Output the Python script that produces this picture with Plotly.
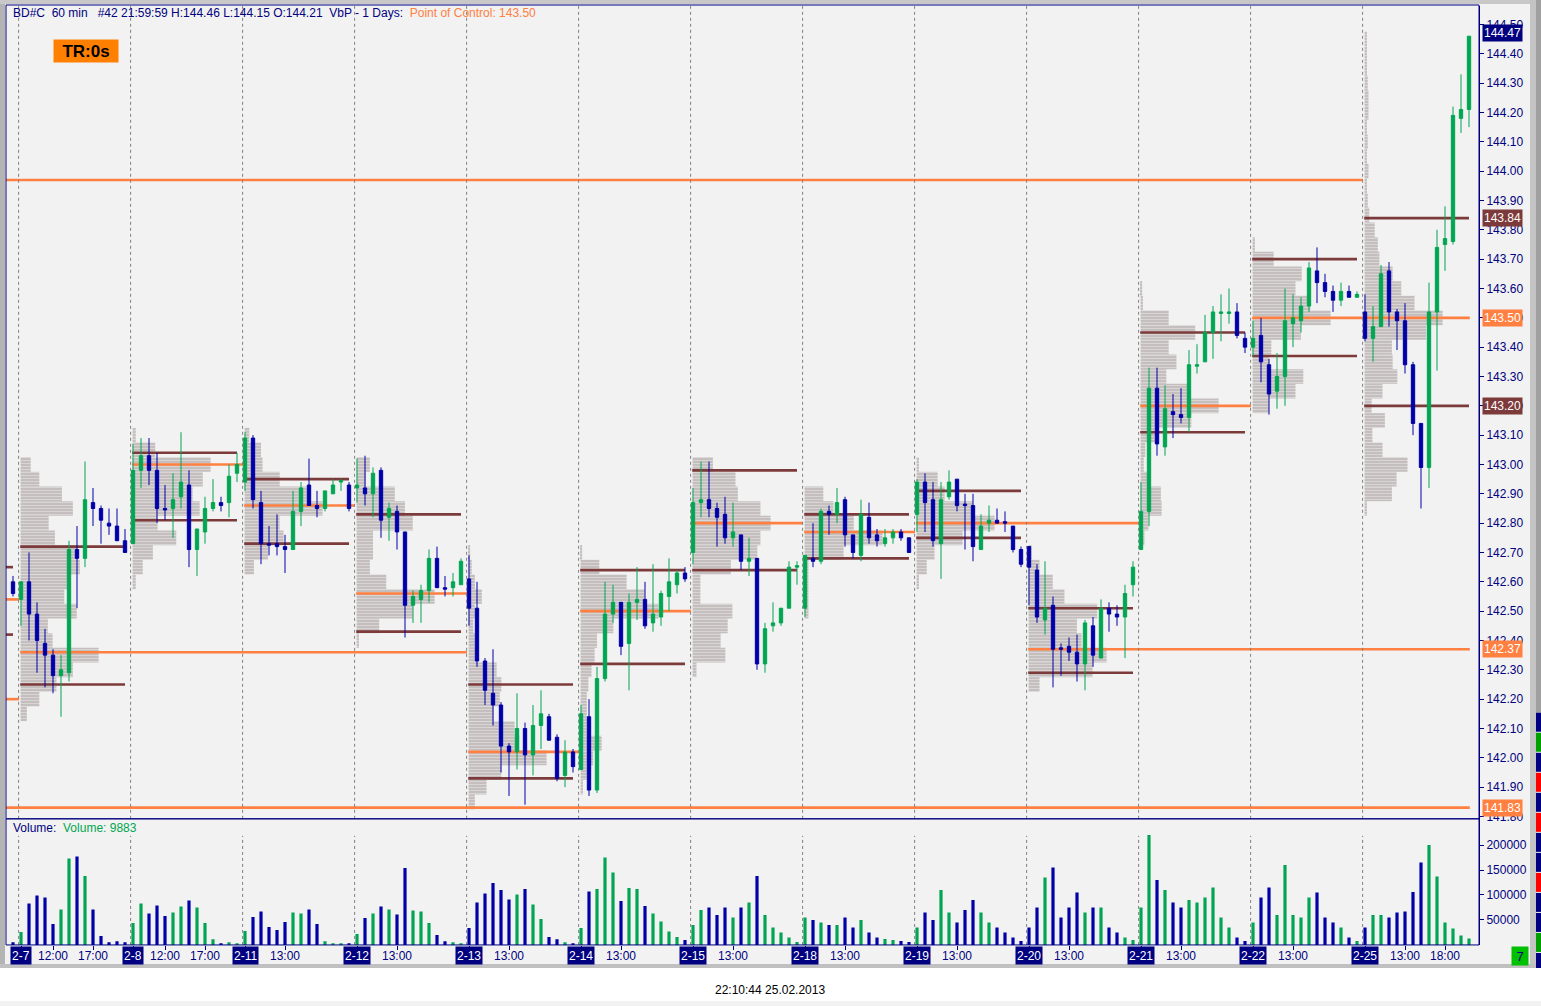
import plotly.graph_objects as go

W, H = 1541, 1006
# the captured page comes out about 6px shorter than the figure, so vertical
# positions are laid out against this height
PAGE_H = 1000

NAVY = "#000080"
GREEN = "#00a651"
BLUE = "#0000a8"
ORANGE = "#ff8040"
BROWN = "#7d3a3a"
PROF = "#c4bebe"
BG = "#f2f2f2"

# ---- data ----
days = ["2-7", "2-8", "2-11", "2-12", "2-13", "2-14", "2-15",
        "2-18", "2-19", "2-20", "2-21", "2-22", "2-25"]
bars_per_day = 14
session_start = 8   # first hourly bar of a day is 08:00
hour_labels = [[12, 17], [12, 17], [13], [13], [13], [13], [13],
               [13], [13], [13], [13], [13], [13, 18]]

# bar 0 is the last bar of 2-6, then 14 bars per day
opens = [142.60,
         142.54, 142.60, 142.49, 142.39, 142.35, 142.28, 142.29, 142.71, 142.68, 142.87, 142.85, 142.80, 142.79, 142.74,
         142.73, 142.98, 143.03, 142.98, 142.85, 142.85, 142.89, 142.93, 142.71, 142.77, 142.85, 142.87, 142.87, 142.97,
         142.94, 143.09, 142.87, 142.73, 142.73, 142.72, 142.71, 142.84, 142.93, 142.86, 142.85, 142.90, 142.94, 142.93,
         142.92, 142.92, 142.90, 142.98, 142.82, 142.84, 142.77, 142.52, 142.54, 142.57, 142.68, 142.58, 142.58, 142.59,
         142.61, 142.51, 142.33, 142.22, 142.18, 142.04, 142.02, 142.10, 142.01, 142.11, 142.14, 142.07, 141.94, 142.02,
         141.96, 142.14, 141.89, 142.27, 142.49, 142.53, 142.39, 142.53, 142.54, 142.46, 142.48, 142.55, 142.59, 142.63,
         142.70, 142.87, 142.88, 142.85, 142.83, 142.75, 142.76, 142.67, 142.68, 142.32, 142.45, 142.46, 142.51, 142.65,
         142.51, 142.68, 142.67, 142.84, 142.83, 142.88, 142.76, 142.69, 142.82, 142.76, 142.73, 142.75, 142.77, 142.75,
         142.83, 142.94, 142.88, 142.73, 142.89, 142.95, 142.865, 142.86, 142.71, 142.80, 142.81, 142.805, 142.79, 142.71,
         142.72, 142.64, 142.47, 142.52, 142.375, 142.38, 142.36, 142.32, 142.45, 142.34, 142.51, 142.49, 142.48, 142.59,
         142.71, 142.84, 143.26, 143.06, 143.18, 143.17, 143.16, 143.335, 143.35, 143.45, 143.515, 143.515, 143.52, 143.43,
         143.40, 143.44, 143.34, 143.25, 143.30, 143.48, 143.49, 143.54, 143.66, 143.62, 143.59, 143.56, 143.59, 143.57,
         143.52, 143.43, 143.47, 143.66, 143.52, 143.49, 143.34, 143.14, 142.99, 143.52, 143.75, 143.76, 144.18, 144.21]
highs = [142.62,
         142.60, 142.70, 142.53, 142.44, 142.37, 142.35, 142.74, 142.79, 143.01, 142.92, 142.86, 142.85, 142.85, 142.78,
         143.07, 143.09, 143.09, 143.04, 142.93, 142.97, 143.11, 142.98, 142.78, 142.89, 142.95, 142.89, 143.00, 143.04,
         143.11, 143.10, 142.91, 142.79, 142.83, 142.76, 142.91, 142.94, 143.02, 142.91, 142.91, 142.95, 142.95, 142.94,
         143.02, 143.03, 142.99, 142.99, 142.87, 142.86, 142.77, 142.57, 142.59, 142.71, 142.72, 142.62, 142.63, 142.68,
         142.69, 142.60, 142.34, 142.37, 142.19, 142.05, 142.22, 142.12, 142.18, 142.23, 142.15, 142.08, 142.06, 142.03,
         142.18, 142.20, 142.31, 142.60, 142.59, 142.53, 142.56, 142.65, 142.60, 142.66, 142.57, 142.68, 142.64, 142.65,
         142.92, 143.01, 143.01, 142.87, 142.89, 142.87, 142.76, 142.75, 142.68, 142.46, 142.53, 142.51, 142.67, 142.67,
         142.69, 142.80, 142.85, 142.86, 142.92, 142.89, 142.76, 142.88, 142.87, 142.78, 142.78, 142.78, 142.78, 142.75,
         142.95, 142.97, 142.94, 142.94, 142.98, 142.95, 142.90, 142.90, 142.83, 142.86, 142.85, 142.84, 142.79, 142.72,
         142.72, 142.66, 142.67, 142.55, 142.39, 142.41, 142.42, 142.47, 142.48, 142.54, 142.53, 142.52, 142.59, 142.67,
         142.94, 143.33, 143.33, 143.27, 143.24, 143.26, 143.39, 143.41, 143.51, 143.54, 143.58, 143.60, 143.55, 143.45,
         143.49, 143.50, 143.36, 143.38, 143.60, 143.58, 143.57, 143.69, 143.74, 143.65, 143.61, 143.62, 143.61, 143.59,
         143.58, 143.54, 143.68, 143.69, 143.53, 143.55, 143.35, 143.14, 143.62, 143.80, 143.88, 144.22, 144.33, 144.46]
lows = [142.55,
        142.45, 142.40, 142.29, 142.24, 142.22, 142.14, 142.26, 142.51, 142.65, 142.79, 142.73, 142.76, 142.74, 142.70,
        142.73, 142.92, 142.93, 142.80, 142.81, 142.75, 142.85, 142.65, 142.62, 142.73, 142.84, 142.84, 142.82, 142.94,
        142.91, 142.85, 142.66, 142.69, 142.69, 142.63, 142.71, 142.79, 142.86, 142.82, 142.84, 142.90, 142.91, 142.84,
        142.87, 142.86, 142.82, 142.75, 142.74, 142.71, 142.41, 142.46, 142.46, 142.53, 142.58, 142.55, 142.55, 142.59,
        142.45, 142.31, 142.18, 142.11, 141.95, 141.87, 141.96, 141.84, 141.94, 142.03, 142.06, 141.92, 141.90, 141.95,
        141.96, 141.87, 141.88, 142.26, 142.46, 142.35, 142.23, 142.47, 142.44, 142.43, 142.45, 142.50, 142.56, 142.60,
        142.66, 142.82, 142.82, 142.72, 142.73, 142.72, 142.64, 142.62, 142.30, 142.29, 142.43, 142.45, 142.51, 142.59,
        142.48, 142.65, 142.66, 142.76, 142.80, 142.72, 142.68, 142.67, 142.73, 142.72, 142.72, 142.73, 142.74, 142.70,
        142.77, 142.77, 142.72, 142.61, 142.88, 142.84, 142.71, 142.67, 142.71, 142.77, 142.80, 142.77, 142.70, 142.65,
        142.52, 142.46, 142.42, 142.24, 142.28, 142.33, 142.26, 142.23, 142.31, 142.34, 142.43, 142.45, 142.34, 142.55,
        142.71, 142.79, 143.03, 143.03, 143.09, 143.14, 143.11, 143.31, 143.35, 143.36, 143.42, 143.48, 143.43, 143.38,
        143.37, 143.28, 143.17, 143.19, 143.20, 143.40, 143.45, 143.52, 143.55, 143.57, 143.52, 143.54, 143.57, 143.57,
        143.42, 143.35, 143.47, 143.47, 143.39, 143.31, 143.10, 142.85, 142.92, 143.32, 143.66, 143.75, 144.13, 144.15]
closes = [142.56,
          142.60, 142.49, 142.40, 142.35, 142.28, 142.30, 142.71, 142.68, 142.88, 142.85, 142.81, 142.79, 142.74, 142.70,
          142.98, 143.03, 142.98, 142.85, 142.845, 142.88, 142.94, 142.71, 142.78, 142.85, 142.87, 142.86, 142.96, 143.00,
          143.09, 142.88, 142.73, 142.725, 142.72, 142.71, 142.84, 142.92, 142.86, 142.85, 142.91, 142.93, 142.945, 142.85,
          142.93, 142.90, 142.97, 142.81, 142.85, 142.77, 142.52, 142.55, 142.57, 142.68, 142.58, 142.575, 142.60, 142.67,
          142.51, 142.33, 142.23, 142.18, 142.04, 142.02, 142.10, 142.01, 142.11, 142.15, 142.06, 141.93, 142.02, 141.97,
          142.15, 141.89, 142.27, 142.49, 142.53, 142.38, 142.53, 142.54, 142.45, 142.49, 142.56, 142.60, 142.63, 142.61,
          142.87, 142.88, 142.85, 142.82, 142.75, 142.77, 142.67, 142.68, 142.32, 142.44, 142.46, 142.51, 142.65, 142.655,
          142.69, 142.67, 142.84, 142.83, 142.87, 142.76, 142.70, 142.83, 142.75, 142.74, 142.75, 142.77, 142.75, 142.70,
          142.94, 142.87, 142.74, 142.88, 142.94, 142.86, 142.86, 142.72, 142.79, 142.81, 142.80, 142.80, 142.71, 142.66,
          142.65, 142.48, 142.51, 142.37, 142.37, 142.36, 142.32, 142.46, 142.35, 142.51, 142.49, 142.48, 142.56, 142.65,
          142.84, 143.26, 143.07, 143.19, 143.17, 143.16, 143.34, 143.34, 143.45, 143.52, 143.52, 143.52, 143.44, 143.40,
          143.43, 143.35, 143.24, 143.30, 143.49, 143.50, 143.54, 143.67, 143.62, 143.59, 143.56, 143.59, 143.57, 143.58,
          143.43, 143.47, 143.65, 143.52, 143.49, 143.34, 143.14, 142.99, 143.52, 143.74, 143.77, 144.19, 144.21, 144.46]
volumes = [5400,
           26000, 83000, 99000, 95000, 42000, 71000, 173000, 177000, 138000, 71000, 18000, 5400, 7500, 5400,
           44000, 83000, 63000, 79000, 58000, 65000, 77000, 89000, 75000, 44000, 11600, 3500, 5400, 3500,
           28000, 56000, 67000, 36000, 30000, 46000, 65000, 63000, 71000, 42000, 7500, 3500, 3500, 3500,
           22000, 54000, 63000, 77000, 71000, 61000, 154000, 69000, 67000, 44000, 20000, 7500, 5400, 3500,
           34000, 85000, 103000, 124000, 110000, 91000, 101000, 112000, 81000, 52000, 15700, 11600, 5400, 3500,
           34000, 107000, 112000, 175000, 145000, 88000, 114000, 112000, 78000, 63000, 47000, 27000, 16000, 10000,
           40000, 70000, 75000, 60000, 75000, 55000, 75000, 85000, 138000, 60000, 35000, 25000, 15000, 6000,
           55000, 50000, 45000, 40000, 40000, 55000, 35000, 50000, 25000, 15000, 12000, 10000, 8000, 6000,
           35000, 65000, 50000, 110000, 65000, 45000, 70000, 90000, 65000, 45000, 35000, 25000, 15000, 8000,
           35000, 75000, 135000, 155000, 55000, 75000, 105000, 65000, 75000, 75000, 35000, 25000, 15000, 10000,
           75000, 220000, 130000, 110000, 85000, 75000, 90000, 85000, 95000, 115000, 55000, 35000, 15000, 8000,
           45000, 95000, 115000, 60000, 160000, 60000, 55000, 95000, 105000, 55000, 45000, 35000, 15000, 8000,
           35000, 60000, 60000, 55000, 65000, 67000, 106000, 165000, 200000, 137000, 45000, 33000, 19000, 13000]

# daily volume-by-price: point of control, value area high / low
poc = [142.36, 143.00, 142.86, 142.56, 142.02, 142.50, 142.80, 142.77, 142.80, 142.37, 143.20, 143.50, 143.50]
vah = [142.72, 143.04, 142.95, 142.83, 142.25, 142.64, 142.98, 142.83, 142.91, 142.51, 143.45, 143.70, 143.84]
val = [142.25, 142.81, 142.73, 142.43, 141.93, 142.32, 142.64, 142.68, 142.75, 142.29, 143.11, 143.37, 143.20]
# untouched POCs and value area carried in from before 2-7
prior_pocs = [143.97, 141.83, 142.20, 142.54]
prior_va = [142.65, 142.42]

# profile rows in 0.05 steps from prof_low upward, % of the day's POC row
prof_step = 0.05
prof_low = [142.15, 142.60, 142.65, 142.40, 141.85, 141.90, 142.30,
            142.50, 142.60, 142.25, 142.75, 143.20, 142.85]
profiles = [
    [8, 24, 46, 67, 100, 41, 35, 72, 56, 60, 76, 73, 44, 36, 67, 53, 24, 13],
    [4, 13, 26, 56, 32, 86, 77, 90, 100, 29, 4],
    [12, 30, 50, 45, 100, 80, 45, 23, 21, 6],
    [3, 29, 72, 100, 38, 17, 21, 21, 72, 62, 49, 12, 17],
    [8, 23, 42, 100, 65, 59, 32, 40, 42, 36, 10, 8, 6, 8, 17, 8, 4, 2],
    [3, 8, 16, 27, 8, 8, 8, 10, 14, 18, 21, 42, 100, 82, 59, 24, 2],
    [5, 42, 36, 45, 51, 10, 10, 49, 83, 87, 100, 87, 58, 55, 26],
    [5, 5, 5, 5, 50, 100, 63, 37, 24],
    [3, 13, 23, 59, 100, 72, 36, 27, 3],
    [14, 82, 100, 68, 62, 88, 46, 31, 14, 4],
    [5, 10, 27, 26, 10, 4, 6, 19, 65, 100, 62, 33, 46, 36, 70, 36, 3, 2],
    [21, 55, 65, 21, 24, 62, 100, 74, 55, 63, 27, 3],
    [3, 35, 41, 55, 23, 10, 26, 9, 23, 42, 36, 35, 79, 100, 64, 47, 36, 19, 17, 13,
     6, 4, 3, 5, 3, 4, 3, 5, 5, 4, 3, 3, 3],
]

last_price = 144.47
volume_text = "9883"
header_time = "#42 21:59:59"


# ---- geometry helpers ----
def px(x):
    return x / W


def py(y):
    return max(0.0, 1 - y / PAGE_H)


n = len(opens)
xs = list(range(n))
first_idx = [1 + bars_per_day * k for k in range(len(days))]
x_left, x_right = -0.875, 183.25
prof_len = 9.75          # POC row length in bars
line_end = n - 1 + 0.1

fig = go.Figure()

# volume profiles
for k, vals in enumerate(profiles):
    ys = [prof_low[k] + prof_step * i for i in range(len(vals))]
    fig.add_trace(go.Bar(
        orientation="h", y=ys, x=[v / 100 * prof_len for v in vals],
        base=first_idx[k] - 0.05, width=prof_step,
        marker=dict(color=PROF, line_width=0,
                    pattern=dict(shape="-", size=3, solidity=0.3,
                                 fgcolor=BG, fillmode="overlay")),
        xaxis="x", yaxis="y", hoverinfo="skip", showlegend=False))


def poc_end(price, start_day):
    for j in range(start_day + 1, len(days)):
        s = first_idx[j]
        if min(lows[s:s + bars_per_day]) <= price <= max(highs[s:s + bars_per_day]):
            return s - 0.25
    return line_end


# POC / value area lines as thin horizontal bars (so candles stay on top)
segs = {ORANGE: [], BROWN: []}
for p in prior_pocs:
    segs[ORANGE].append((p, x_left, poc_end(p, -1)))
for p in prior_va:
    segs[BROWN].append((p, x_left, 0))
for k in range(len(days)):
    s = first_idx[k]
    segs[ORANGE].append((poc[k], s - 0.1, poc_end(poc[k], k)))
    segs[BROWN].append((vah[k], s - 0.1, s + bars_per_day - 1))
    segs[BROWN].append((val[k], s - 0.1, s + bars_per_day - 1))

for col, lst in segs.items():
    fig.add_trace(go.Bar(
        orientation="h", y=[a for a, b, c in lst], x=[c - b for a, b, c in lst],
        base=[b for a, b, c in lst], width=0.009,
        marker=dict(color=col, line_width=0),
        xaxis="x", yaxis="y", hoverinfo="skip", showlegend=False))

# candles
fig.add_trace(go.Candlestick(
    x=xs, open=opens, high=highs, low=lows, close=closes,
    increasing=dict(line=dict(color=GREEN, width=1), fillcolor=GREEN),
    decreasing=dict(line=dict(color=BLUE, width=1), fillcolor=BLUE),
    whiskerwidth=0, xaxis="x", yaxis="y", showlegend=False))

# volume
vol_cols = [GREEN if c > o else BLUE for o, c in zip(opens, closes)]
fig.add_trace(go.Bar(x=xs, y=volumes, width=0.4, marker=dict(color=vol_cols, line_width=0),
                     xaxis="x", yaxis="y2", showlegend=False))

shapes = []
# window chrome
shapes.append(dict(type="rect", xref="paper", yref="paper", x0=0, x1=px(5), y0=py(966), y1=1,
                   fillcolor="#b4b4b4", line_width=0, layer="below"))
shapes.append(dict(type="rect", xref="paper", yref="paper", x0=0, x1=px(1530), y0=py(4), y1=1,
                   fillcolor="#c8c8c8", line_width=0, layer="below"))
shapes.append(dict(type="rect", xref="paper", yref="paper", x0=px(1530), x1=px(1536), y0=py(966), y1=1,
                   fillcolor="#c4c4c4", line_width=0, layer="below"))
shapes.append(dict(type="rect", xref="paper", yref="paper", x0=px(1536), x1=1, y0=py(712), y1=1,
                   fillcolor="#a0a0a0", line_width=0, layer="below"))
strip_cols = [NAVY, "#00a000", NAVY, "#ff0000", NAVY, "#ff0000", NAVY, NAVY,
              "#ff0000", NAVY, NAVY, "#00a000", NAVY]
for i, c in enumerate(strip_cols):
    shapes.append(dict(type="rect", xref="paper", yref="paper", x0=px(1536), x1=1,
                       y0=py(712 + 20 * i + 19), y1=py(712 + 20 * i),
                       fillcolor=c, line_width=0, layer="below"))
shapes.append(dict(type="rect", xref="paper", yref="paper", x0=0, x1=px(1536), y0=py(967), y1=py(963),
                   fillcolor="#c0c0c0", line_width=0, layer="below"))
shapes.append(dict(type="rect", xref="paper", yref="paper", x0=0, x1=1, y0=0, y1=py(967),
                   fillcolor="white", line_width=0, layer="below"))

# day separators
for s in first_idx:
    shapes.append(dict(type="line", xref="x", yref="paper", x0=s - 0.3, x1=s - 0.3,
                       y0=py(818), y1=py(6), line=dict(color="#808080", width=1, dash="dot")))
    shapes.append(dict(type="line", xref="x", yref="paper", x0=s - 0.3, x1=s - 0.3,
                       y0=py(944), y1=py(835), line=dict(color="#808080", width=1, dash="dot")))

# pane frames
shapes.append(dict(type="rect", xref="paper", yref="paper", x0=px(6), x1=px(1479),
                   y0=py(818), y1=py(5), line=dict(color=NAVY, width=1)))
shapes.append(dict(type="rect", xref="paper", yref="paper", x0=px(6), x1=px(1479),
                   y0=py(944), y1=py(818), line=dict(color=NAVY, width=1)))

ann = []
poc_txt = f"{poc[-1]:.2f}"
hdr = (f"BD#C\u00a0 60 min\u00a0\u00a0 {header_time} H:{highs[-1]:.2f} L:{lows[-1]:.2f} "
       f"O:{opens[-1]:.2f}\u00a0 VbP - 1 Days:\u00a0 "
       f"<span style='color:{ORANGE}'>Point of Control: {poc_txt}</span>")
ann.append(dict(xref="paper", yref="paper", x=px(11), y=py(13), xanchor="left", yanchor="middle",
                text=hdr, showarrow=False, font=dict(family="Liberation Sans, Arial", size=12, color=NAVY)))
ann.append(dict(xref="paper", yref="paper", x=px(86), y=py(51), xanchor="center", yanchor="middle",
                text="<b>TR:0s</b>", showarrow=False, bgcolor="#ff8000", width=62, height=20,
                font=dict(family="Liberation Sans, Arial", size=17, color="black")))
ann.append(dict(xref="paper", yref="paper", x=px(11), y=py(827), xanchor="left", yanchor="middle",
                text=f"Volume:\u00a0 <span style='color:{GREEN}'>Volume: {volume_text}</span>",
                showarrow=False, font=dict(family="Liberation Sans, Arial", size=12, color=NAVY)))
ann.append(dict(xref="paper", yref="paper", x=px(770), y=py(989), xanchor="center", yanchor="middle",
                text="22:10:44 25.02.2013", showarrow=False,
                font=dict(family="Liberation Sans, Arial", size=12, color="black")))
ann.append(dict(xref="paper", yref="paper", x=px(1520), y=py(955), xanchor="center", yanchor="middle",
                text="7", showarrow=False, bgcolor="#00c000", width=14, height=16,
                font=dict(family="Liberation Sans, Arial", size=13, color=NAVY)))

# date / hour labels
tick_pos = []
for k, d in enumerate(days):
    s = first_idx[k]
    tick_pos.append(s)
    ann.append(dict(xref="x", yref="paper", x=s, y=py(955), xanchor="center", yanchor="middle",
                    text=d, showarrow=False, bgcolor=NAVY, borderpad=1, height=15,
                    font=dict(family="Liberation Sans, Arial", size=12, color="white")))
    for h in hour_labels[k]:
        xi = s + h - session_start
        tick_pos.append(xi)
        ann.append(dict(xref="x", yref="paper", x=xi, y=py(955), xanchor="center", yanchor="middle",
                        text=f"{h}:00", showarrow=False,
                        font=dict(family="Liberation Sans, Arial", size=12, color=NAVY)))

# price tags on the right axis for lines reaching the last bar
tags = [(last_price, NAVY)]
tags += [(p, ORANGE) for p in prior_pocs if poc_end(p, -1) == line_end]
tags += [(poc[k], ORANGE) for k in range(len(days)) if poc_end(poc[k], k) == line_end]
tags += [(vah[-1], BROWN), (val[-1], BROWN)]
for p, c in tags:
    ann.append(dict(xref="paper", yref="y", x=px(1482), y=p, xanchor="left", yanchor="middle",
                    text=f"{p:.2f}", showarrow=False, bgcolor=c, borderpad=1,
                    font=dict(family="Liberation Sans, Arial", size=12, color="white")))

pticks = [round(141.8 + 0.1 * i, 2) for i in range(28)]
axfont = dict(family="Liberation Sans, Arial", size=12, color=NAVY)

fig.update_layout(
    width=W, height=H, autosize=False, margin=dict(l=0, r=0, t=0, b=0),
    paper_bgcolor=BG, plot_bgcolor=BG,
    barmode="overlay", boxgap=0.4, showlegend=False,
    shapes=shapes, annotations=ann,
    xaxis=dict(domain=[px(6), px(1479)], range=[x_left, x_right], anchor="y2",
               showticklabels=False, tickvals=tick_pos, ticks="outside", ticklen=4,
               tickcolor=NAVY, showgrid=False, zeroline=False,
               rangeslider=dict(visible=False), fixedrange=True),
    yaxis=dict(domain=[py(818), py(6)], range=[141.792, 144.563], side="right", anchor="x",
               tickvals=pticks, ticktext=[f"{t:.2f}" for t in pticks],
               ticks="outside", ticklen=4, tickcolor=NAVY, tickfont=axfont,
               showgrid=False, zeroline=False, showline=True, linecolor=NAVY, fixedrange=True),
    yaxis2=dict(domain=[py(944), py(818)], range=[0, 252500], side="right", anchor="x",
                tickvals=[50000, 100000, 150000, 200000],
                ticktext=["50000", "100000", "150000", "200000"],
                ticks="outside", ticklen=4, tickcolor=NAVY, tickfont=axfont,
                showgrid=False, zeroline=False, showline=True, linecolor=NAVY, fixedrange=True),
)

# the page's default body margin would shift the figure by 8px
fig.write_html("out.html", config={"responsive": False, "displayModeBar": False},
               post_script="document.body.style.margin='0px';"
                           "document.body.style.background='white';"
                           "document.documentElement.style.background='white';"
                           "document.body.style.overflow='hidden';")
